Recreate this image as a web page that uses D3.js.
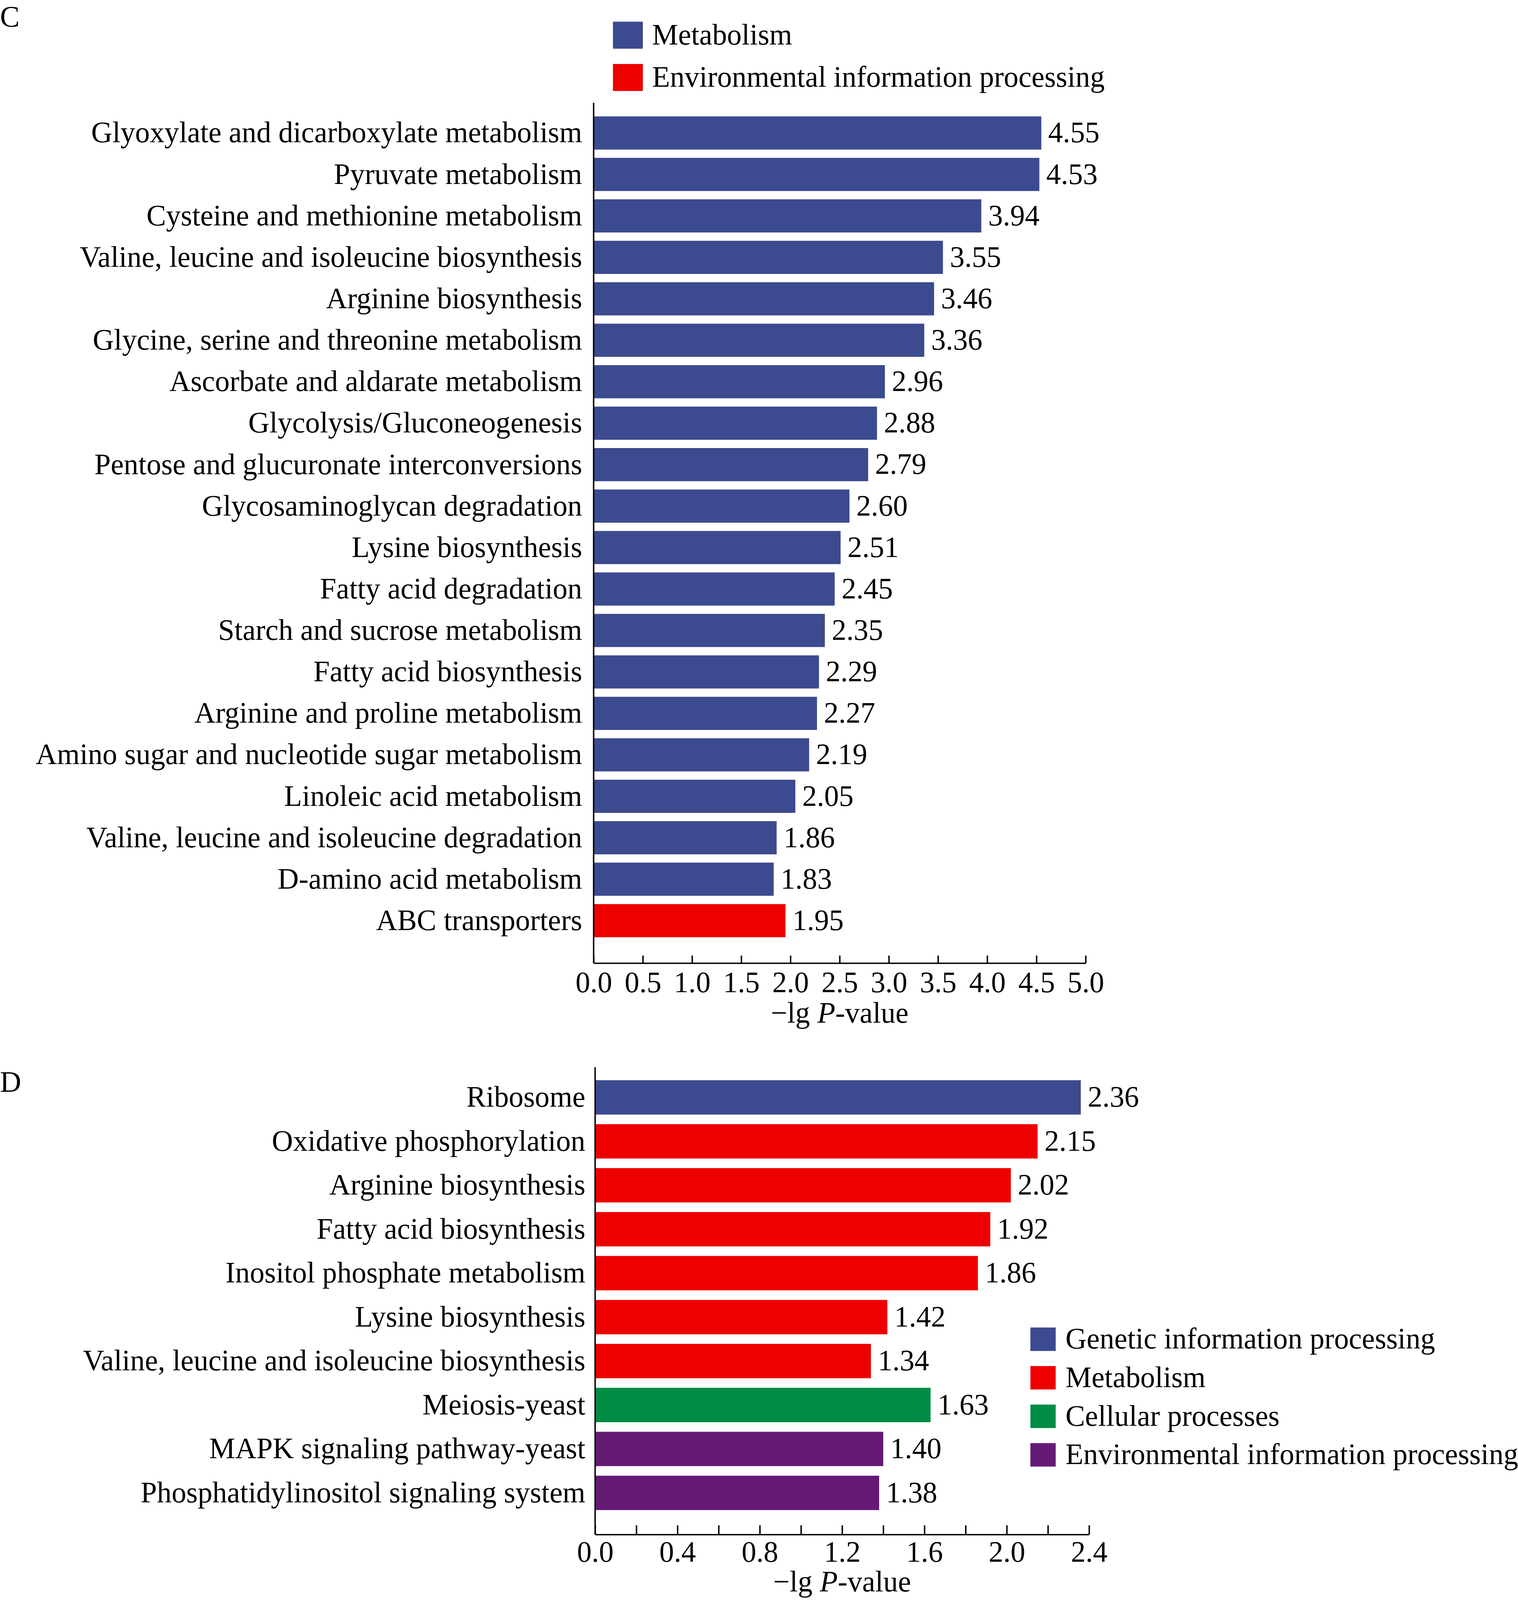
<!DOCTYPE html>
<html>
<head>
<meta charset="utf-8">
<script src="https://cdn.jsdelivr.net/npm/d3@7"></script>
<style>
  html, body { margin: 0; padding: 0; background: #fff; overflow: hidden; }
  #plot svg { display: block; }
  text { font-family: "Liberation Serif", "Times New Roman", serif; fill: #000; }
</style>
</head>
<body>
<div id="plot"></div>
<script>
// panel C data
const c_pathways = ["Glyoxylate and dicarboxylate metabolism", "Pyruvate metabolism",
  "Cysteine and methionine metabolism", "Valine, leucine and isoleucine biosynthesis",
  "Arginine biosynthesis", "Glycine, serine and threonine metabolism",
  "Ascorbate and aldarate metabolism", "Glycolysis/Gluconeogenesis",
  "Pentose and glucuronate interconversions", "Glycosaminoglycan degradation",
  "Lysine biosynthesis", "Fatty acid degradation", "Starch and sucrose metabolism",
  "Fatty acid biosynthesis", "Arginine and proline metabolism",
  "Amino sugar and nucleotide sugar metabolism", "Linoleic acid metabolism",
  "Valine, leucine and isoleucine degradation", "D-amino acid metabolism", "ABC transporters"];
const c_values = [4.55, 4.53, 3.94, 3.55, 3.46, 3.36, 2.96, 2.88, 2.79, 2.60,
  2.51, 2.45, 2.35, 2.29, 2.27, 2.19, 2.05, 1.86, 1.83, 1.95];
const c_groups = ["Metabolism", "Metabolism", "Metabolism", "Metabolism", "Metabolism",
  "Metabolism", "Metabolism", "Metabolism", "Metabolism", "Metabolism", "Metabolism",
  "Metabolism", "Metabolism", "Metabolism", "Metabolism", "Metabolism", "Metabolism",
  "Metabolism", "Metabolism", "Environmental information processing"];
const c_legend = ["Metabolism", "Environmental information processing"];
const c_ticks = [0, 0.5, 1, 1.5, 2, 2.5, 3, 3.5, 4, 4.5, 5];

// panel D data
const d_pathways = ["Ribosome", "Oxidative phosphorylation", "Arginine biosynthesis",
  "Fatty acid biosynthesis", "Inositol phosphate metabolism", "Lysine biosynthesis",
  "Valine, leucine and isoleucine biosynthesis", "Meiosis-yeast",
  "MAPK signaling pathway-yeast", "Phosphatidylinositol signaling system"];
const d_values = [2.36, 2.15, 2.02, 1.92, 1.86, 1.42, 1.34, 1.63, 1.40, 1.38];
const d_groups = ["Genetic information processing", "Metabolism", "Metabolism", "Metabolism",
  "Metabolism", "Metabolism", "Metabolism", "Cellular processes",
  "Environmental information processing", "Environmental information processing"];
const d_legend = ["Genetic information processing", "Metabolism", "Cellular processes",
  "Environmental information processing"];
const d_ticks = [0, 0.2, 0.4, 0.6, 0.8, 1.0, 1.2, 1.4, 1.6, 1.8, 2.0, 2.2, 2.4];

const c_colors = {"Metabolism": "#3c4a8f", "Environmental information processing": "#ee0000"};
const d_colors = {"Genetic information processing": "#3c4a8f", "Metabolism": "#ee0000",
  "Cellular processes": "#008c45", "Environmental information processing": "#641a75"};

// layout is in a 1320-wide frame, stretched to whatever the window gives
const frame_w = 1320;
const frame_h = 4621 / 3887 * frame_w;
const W = window.innerWidth || 3887;
const H = window.innerHeight || 4621;
const sx = W / frame_w;
const sy = H / frame_h;
const font_size = 25.5 * sx;
const stroke_w = 1.4 * Math.min(sx, sy);

const svg = d3.select("#plot").append("svg")
  .attr("width", W).attr("height", H);

function draw_panel(opt) {
  const g = svg.append("g");

  // panel letter; never let its ascent go above the top edge
  g.append("text").attr("x", 0)
    .attr("y", Math.max(opt.letter_y * sy, font_size * 0.9))
    .attr("font-size", font_size).text(opt.letter);

  const x = d3.scaleLinear().domain(opt.domain).range([opt.left * sx, opt.right * sx]);
  const y = d3.scaleBand().domain(opt.names).range([opt.band[0] * sy, opt.band[1] * sy])
    .paddingInner(opt.pad).paddingOuter(opt.pad / 2);

  const rows = opt.names.map(function(n, i) {
    return {name: n, value: opt.values[i], group: opt.groups[i]};
  });

  g.selectAll("rect.bar").data(rows).enter().append("rect")
    .attr("class", "bar")
    .attr("x", x(0))
    .attr("y", function(d) { return y(d.name); })
    .attr("width", function(d) { return x(d.value) - x(0); })
    .attr("height", y.bandwidth())
    .attr("fill", function(d) { return opt.colors[d.group]; });

  g.selectAll("text.val").data(rows).enter().append("text")
    .attr("class", "val")
    .attr("x", function(d) { return x(d.value) + 6 * sx; })
    .attr("y", function(d) { return y(d.name) + y.bandwidth() / 2; })
    .attr("dy", "0.32em")
    .attr("font-size", font_size)
    .text(function(d) { return d.value.toFixed(2); });

  // category labels
  const yAxis = d3.axisLeft(y).tickSize(0).tickPadding(opt.label_gap * sx);
  const ya = g.append("g").attr("transform", "translate(" + opt.left * sx + ",0)").call(yAxis);
  ya.select(".domain").remove();
  ya.selectAll("text").attr("font-size", font_size)
    .attr("font-family", "Liberation Serif, Times New Roman, serif").attr("dy", "0.32em");

  g.append("line").attr("x1", opt.left * sx).attr("x2", opt.left * sx)
    .attr("y1", opt.axis_top * sy).attr("y2", opt.axis_y * sy)
    .attr("stroke", "#000").attr("stroke-width", stroke_w);

  const xAxis = d3.axisBottom(x).tickValues(opt.ticks)
    .tickSizeInner(-opt.tick_len * sy).tickSizeOuter(0).tickPadding(opt.tick_pad * sy)
    .tickFormat(opt.fmt);
  const xa = g.append("g").attr("transform", "translate(0," + opt.axis_y * sy + ")").call(xAxis);
  xa.select(".domain").attr("stroke-width", stroke_w);
  xa.selectAll(".tick line").attr("stroke-width", stroke_w);
  xa.selectAll("text").attr("font-size", font_size).attr("dy", null)
    .attr("y", opt.tick_base * sy)
    .attr("font-family", "Liberation Serif, Times New Roman, serif");

  const title = g.append("text").attr("x", (opt.left + opt.right) / 2 * sx).attr("y", opt.title_y * sy)
    .attr("text-anchor", "middle").attr("font-size", font_size);
  title.append("tspan").text("\u2212lg ");
  title.append("tspan").attr("font-style", "italic").text("P");
  title.append("tspan").text("-value");

  // legend
  const lg = g.selectAll("g.leg").data(opt.legend).enter().append("g")
    .attr("transform", function(d, i) { return "translate(" + opt.leg_x * sx + "," + (opt.leg_y + i * opt.leg_step) * sy + ")"; });
  lg.append("rect").attr("x", 0).attr("y", -opt.leg_box / 2 * sy)
    .attr("width", opt.leg_box_w * sx).attr("height", opt.leg_box * sy)
    .attr("fill", function(d) { return opt.colors[d]; });
  lg.append("text").attr("x", (opt.leg_box_w + opt.leg_gap) * sx).attr("y", 0).attr("dy", "0.32em")
    .attr("font-size", font_size).text(function(d) { return d; });
}

draw_panel({
  letter: "C", letter_y: 23,
  names: c_pathways, values: c_values, groups: c_groups, colors: c_colors,
  domain: [0, 5], left: 516.2, right: 944, band: [110.1, 923.3], pad: 0.2,
  label_gap: 10, axis_top: 100.8, axis_y: 944.6, tick_len: 7.4, tick_pad: 10.6, tick_base: 28.7,
  ticks: c_ticks, fmt: d3.format(".1f"), title_y: 1003,
  legend: c_legend, leg_x: 533, leg_y: 34.5, leg_step: 41.5, leg_box: 26.5, leg_box_w: 26, leg_gap: 8
});

draw_panel({
  letter: "D", letter_y: 1070.8,
  names: d_pathways, values: d_values, groups: d_groups, colors: d_colors,
  domain: [0, 2.4], left: 517.5, right: 947, band: [1054.75, 1485.75], pad: 0.218,
  label_gap: 8.5, axis_top: 1046.8, axis_y: 1505, tick_len: 9, tick_pad: 8.5, tick_base: 26.6,
  ticks: d_ticks, fmt: function(d, i) { return i % 2 === 0 ? d3.format(".1f")(d) : ""; },
  title_y: 1561,
  legend: d_legend, leg_x: 896, leg_y: 1313.5, leg_step: 37.8, leg_box: 23, leg_box_w: 22, leg_gap: 8.5
});
</script>
</body>
</html>
